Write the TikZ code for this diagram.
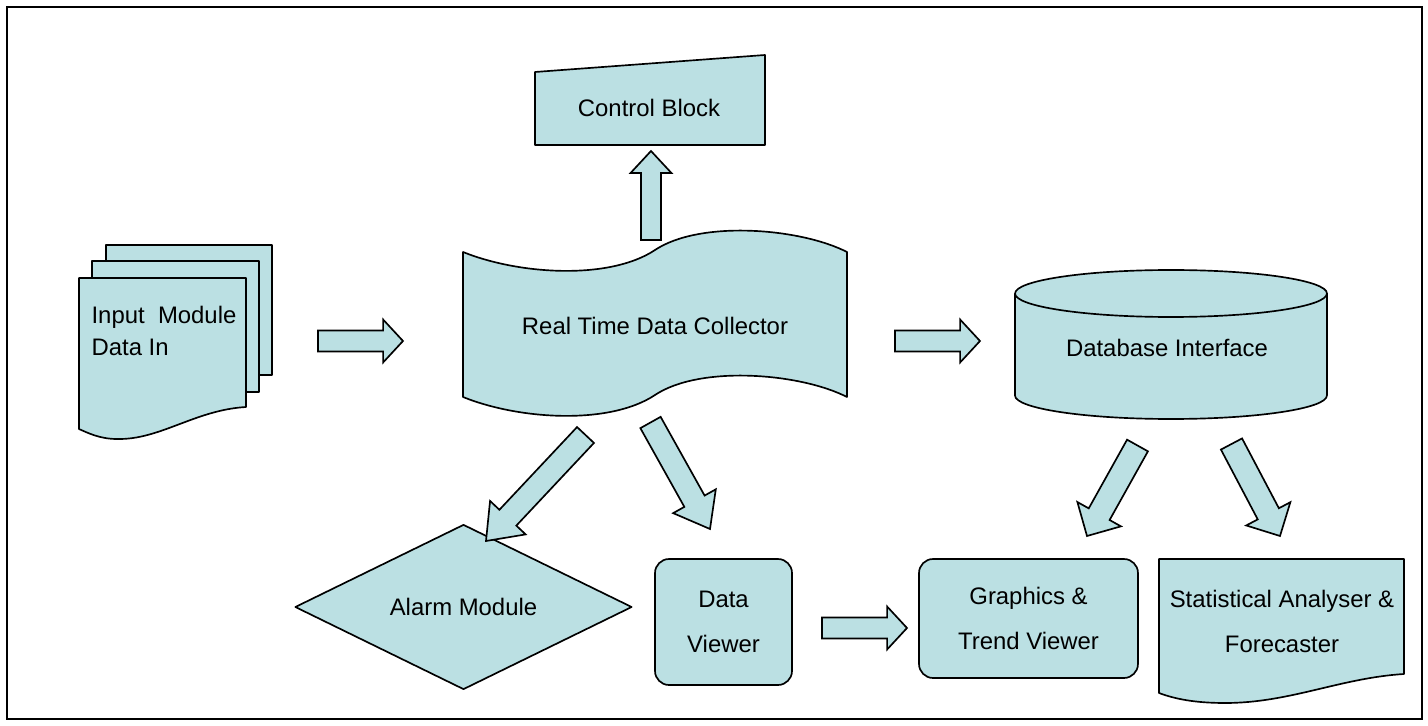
\documentclass[tikz,border=0pt]{standalone}
\usepackage{fontspec}
\setmainfont{Liberation Sans}
\usetikzlibrary{shapes.geometric,calc,positioning}
\definecolor{flowfill}{RGB}{187,224,227}
\tikzset{
  outline/.style={draw=black, fill=flowfill, line width=0.95pt, line join=round},
  txt/.style={align=center, inner sep=0pt, font=\fontsize{13.6}{16}\selectfont},
  twoline/.style={txt, font=\fontsize{13.6}{26}\selectfont},
  viewer/.style={rectangle, rounded corners=0.28cm, outline, twoline},
  decision/.style={diamond, outline, txt, minimum width=6.74cm, minimum height=2.86cm},
  blockarrow/.style={outline, line join=miter}
}
% tail, tip, shaft half width, head half width, head length
\newcommand{\blockarrow}[5]{%
  \path[blockarrow] let \p1=($(#2)-(#1)$), \n1={atan2(\y1,\x1)},
    \n2={veclen(\x1,\y1)-#5}, \n3={#4-#3} in
    ($(#1)+(\n1+90:#3)$) -- ++(\n1:\n2) -- ++(\n1+90:\n3) -- (#2)
    -- ($(#1)+(\n1:\n2)+(\n1-90:#4)$) -- ++(\n1+90:\n3)
    -- ($(#1)+(\n1-90:#3)$) -- cycle;}

\begin{document}
\begin{tikzpicture}[x=0.02cm, y=-0.02cm]
\useasboundingbox (0,0) rectangle (1428,726);
\draw[line width=1.5pt] (7,7) rectangle (1422,719);

% input documents
\path[outline] (106,245) rectangle (272,375);
\path[outline] (92,261) rectangle (259,392);
\path[outline] (79,278) -- (246,278) -- (246,407)
  .. controls (195,410) and (160,440) .. (117,439)
  .. controls (100,439) and (88,433) .. (79,429) -- cycle;
\node[txt, align=left, font=\fontsize{13.6}{18}\selectfont] (input) at (164,331) {Input~~Module\\Data In};

% collector
\path[outline] (463,252) .. controls (520,275) and (610,280) .. (655,250)
  .. controls (700,220) and (800,228) .. (847,252) -- (847,397)
  .. controls (800,373) and (700,365) .. (655,395)
  .. controls (610,425) and (520,420) .. (463,397) -- cycle;
\node[txt] (collector) at (655,326) {Real Time Data Collector};

% control block
\path[outline] (535,72) -- (765,55) -- (765,145) -- (535,145) -- cycle;
\node[txt] (control) at (649,108) {Control Block};

% database
\path[outline] (1015,293.5) -- (1015,395.5)
  arc[start angle=180, end angle=360, x radius=3.12cm, y radius=0.47cm] -- (1327,293.5)
  arc[start angle=0, end angle=180, x radius=3.12cm, y radius=0.47cm] -- cycle;
\draw[line width=0.95pt] (1015,293.5) arc[start angle=180, end angle=360, x radius=3.12cm, y radius=0.47cm];
\node[txt] (database) at (1167,348) {Database Interface};

% lower row
\node[decision] (alarm) at (463.5,607) {Alarm Module};
\node[viewer, minimum width=2.74cm, minimum height=2.52cm] (dataviewer) at (723.5,622) {Data\\Viewer};
\node[viewer, minimum width=4.38cm, minimum height=2.38cm] (trend) at (1028.5,618.5) {Graphics \&\\Trend Viewer};
\path[outline] (1159,559) -- (1404,559) -- (1404,674)
  .. controls (1340,678) and (1290,703) .. (1225,703)
  .. controls (1195,703) and (1175,699) .. (1159,693) -- cycle;
\node[twoline] (stats) at (1282,621.5) {Statistical Analyser \&\\Forecaster};

% arrow ends
\coordinate (inTail) at (318,341);      \coordinate (inTip) at (403,341);
\coordinate (dbTail) at (895,341);      \coordinate (dbTip) at (980,341);
\coordinate (trTail) at (822,628);      \coordinate (trTip) at (907,628);
\coordinate (ctlTail) at (651,240);     \coordinate (ctlTip) at (651,151);
\coordinate (alTail) at (585.5,435);    \coordinate (alTip) at (486,541);
\coordinate (dvTail) at (650.5,422.5);  \coordinate (dvTip) at (710,529);
\coordinate (gtTail) at (1137.5,445.5); \coordinate (gtTip) at (1087,536);
\coordinate (stTail) at (1231.5,444);   \coordinate (stTip) at (1280,536);

\blockarrow{inTail}{inTip}{5.95pt}{12.2pt}{11.3pt}
\blockarrow{dbTail}{dbTip}{5.95pt}{12.2pt}{11.3pt}
\blockarrow{trTail}{trTip}{5.95pt}{12.2pt}{11.3pt}
\blockarrow{ctlTail}{ctlTip}{5.67pt}{11.6pt}{12.5pt}
\blockarrow{alTail}{alTip}{6.6pt}{13.9pt}{18pt}
\blockarrow{dvTail}{dvTip}{6.6pt}{13.9pt}{18pt}
\blockarrow{gtTail}{gtTip}{6.8pt}{14.2pt}{14.2pt}
\blockarrow{stTail}{stTip}{6.8pt}{14.2pt}{14.2pt}
\end{tikzpicture}
\end{document}
